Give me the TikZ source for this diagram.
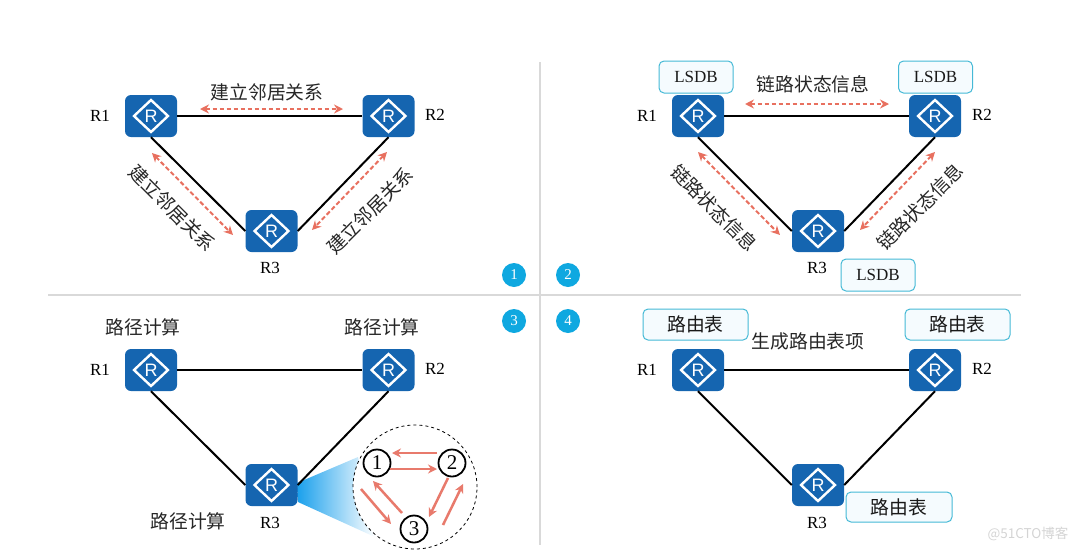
\documentclass[tikz,border=0pt]{standalone}
\usepackage{fontspec}
\setmainfont{Liberation Serif}
\newfontfamily\cjk{Noto Sans CJK SC}
\newfontfamily\rsans{Liberation Sans}
\usetikzlibrary{arrows.meta,shapes.geometric,calc}
\definecolor{rblue}{HTML}{1565B0}
\definecolor{redarrow}{HTML}{E8705F}
\definecolor{flowred}{HTML}{E87A6C}
\definecolor{divgray}{HTML}{D9D9D9}
\definecolor{numblue}{HTML}{0FA8E0}
\definecolor{fanblue}{HTML}{1AA0EC}
\definecolor{boxedge}{HTML}{45B9D6}
\definecolor{boxfill}{HTML}{F5FBFE}
\definecolor{wmgray}{HTML}{D4D4D4}
\tikzset{
  routerbox/.style={fill=rblue,rounded corners=6pt,minimum width=52pt,minimum height=42pt,inner sep=0pt},
  routermark/.style={diamond,draw=white,line width=2.4pt,minimum width=35pt,minimum height=33pt,inner sep=0pt,text=white,font=\rsans\fontsize{18}{18}\selectfont},
  link/.style={draw=black,line width=2pt},
  dasharrow/.style={draw=redarrow,line width=2pt,dash pattern=on 4.5pt off 2.5pt,{Stealth[length=9pt,width=9pt]}-{Stealth[length=9pt,width=9pt]}},
  flow/.style={draw=flowred,line width=2.5pt,-{Stealth[length=9pt,width=9pt]}},
  rlabel/.style={font=\fontsize{17}{18}\selectfont,inner sep=0pt},
  cjklabel/.style={font=\cjk\fontsize{18.8}{20}\selectfont,inner sep=0pt,text=black!85},
  infobox/.style={draw=boxedge,fill=boxfill,line width=1pt,rounded corners=5pt,inner sep=0pt,text=black!90},
  lsdbbox/.style={infobox,minimum width=74pt,minimum height=32pt,font=\fontsize{17}{18}\selectfont},
  tablebox/.style={infobox,minimum width=105pt,minimum height=31pt,font=\cjk\fontsize{18.8}{20}\selectfont},
  numdot/.style={circle,fill=numblue,text=white,minimum size=24pt,inner sep=0pt,font=\fontsize{15}{15}\selectfont},
  stepdot/.style={circle,draw=black,fill=white,line width=1.8pt,minimum size=27pt,inner sep=0pt,font=\fontsize{21}{21}\selectfont},
  divider/.style={draw=divgray,line width=2pt}
}
\newcommand{\routerat}[3]{%
  \node[routerbox] (#1) at (#2,#3) {};
  \node[routermark] (#1m) at (#2,#3) {R};
}
\begin{document}
\begin{tikzpicture}[x=1pt,y=-1pt]
\useasboundingbox (0,0) rectangle (1082,552);
% dividers
\coordinate (vt) at (540,62); \coordinate (vb) at (540,545);
\coordinate (hl) at (48,295); \coordinate (hr) at (1021,295);
\draw[divider] (vt) -- (vb);
\draw[divider] (hl) -- (hr);
% number dots
\node[numdot] (n1) at (514,275) {1};
\node[numdot] (n2) at (568,275) {2};
\node[numdot] (n3) at (514,321) {3};
\node[numdot] (n4) at (568,321) {4};
% panel 1
\routerat{a1}{151}{116}
\routerat{a2}{388.5}{116}
\routerat{a3}{271.5}{231}
\draw[link] (a1.east) -- (a2.west);
\draw[link] (a1.south) -- (a3.west);
\draw[link] (a2.south) -- (a3.east);
\node[rlabel] (a1l) at (100,116) {R1};
\node[rlabel] (a2l) at (435,115) {R2};
\node[rlabel] (a3l) at (270,268) {R3};
\coordinate (at1) at (200,109); \coordinate (at2) at (343,109);
\coordinate (al1) at (152,153); \coordinate (al2) at (233,235);
\coordinate (ar1) at (387,152); \coordinate (ar2) at (312,230);
\draw[dasharrow] (at1) -- (at2);
\draw[dasharrow] (al1) -- (al2);
\draw[dasharrow] (ar1) -- (ar2);
\node[cjklabel] (at) at (267,92) {建立邻居关系};
\node[cjklabel,rotate=-45] (al) at (172,208) {建立邻居关系};
\node[cjklabel,rotate=45] (ar) at (370,211) {建立邻居关系};
% panel 2
\routerat{b1}{698}{116}
\routerat{b2}{935}{116}
\routerat{b3}{818}{231}
\draw[link] (b1.east) -- (b2.west);
\draw[link] (b1.south) -- (b3.west);
\draw[link] (b2.south) -- (b3.east);
\node[rlabel] (b1l) at (647,116) {R1};
\node[rlabel] (b2l) at (982,115) {R2};
\node[rlabel] (b3l) at (817,268) {R3};
\coordinate (bt1) at (745,104); \coordinate (bt2) at (889,104);
\coordinate (bl1) at (698,152); \coordinate (bl2) at (780,235);
\coordinate (br1) at (935,152); \coordinate (br2) at (860,230);
\draw[dasharrow] (bt1) -- (bt2);
\draw[dasharrow] (bl1) -- (bl2);
\draw[dasharrow] (br1) -- (br2);
\node[cjklabel] (bt) at (813,84) {链路状态信息};
\node[cjklabel,rotate=-45] (bl) at (714,208) {链路状态信息};
\node[cjklabel,rotate=45] (br) at (920,207) {链路状态信息};
\node[lsdbbox] (l1) at (696,77) {LSDB};
\node[lsdbbox] (l2) at (935.5,77) {LSDB};
\node[lsdbbox] (l3) at (878,275) {LSDB};
% panel 3
\routerat{c1}{151}{370}
\routerat{c2}{388.5}{370}
\coordinate (fanA) at (297,483); \coordinate (fanB) at (358,457);
\coordinate (fanC) at (375,537); \coordinate (fanD) at (298,502);
\shade[left color=fanblue,right color=white] (fanA) -- (fanB) -- (fanC) -- (fanD) -- cycle;
\routerat{c3}{271.5}{485}
\draw[link] (c1.east) -- (c2.west);
\draw[link] (c1.south) -- (c3.west);
\draw[link] (c2.south) -- (c3.east);
\node[rlabel] (c1l) at (100,370) {R1};
\node[rlabel] (c2l) at (435,369) {R2};
\node[rlabel] (c3l) at (270,523) {R3};
\node[cjklabel] (ct1) at (143,327) {路径计算};
\node[cjklabel] (ct2) at (382,327) {路径计算};
\node[cjklabel] (ct3) at (188,521) {路径计算};
\node[circle,draw=black,fill=white,dashed,line width=0.8pt,minimum size=124pt,inner sep=0pt] (lens) at (415,487) {};
\node[stepdot] (s1) at (377,463) {1};
\node[stepdot] (s2) at (452,463) {2};
\node[stepdot] (s3) at (414,529) {3};
\coordinate (f1) at (437,453); \coordinate (f2) at (392,453);
\coordinate (f3) at (390,469); \coordinate (f4) at (437,469);
\coordinate (f5) at (402,513); \coordinate (f6) at (373,481);
\coordinate (f7) at (361,489); \coordinate (f8) at (391,524);
\coordinate (f9) at (448,478); \coordinate (f10) at (429,517);
\coordinate (f11) at (443,525); \coordinate (f12) at (463,484);
\draw[flow] (f1) -- (f2);
\draw[flow] (f3) -- (f4);
\draw[flow] (f5) -- (f6);
\draw[flow] (f7) -- (f8);
\draw[flow] (f9) -- (f10);
\draw[flow] (f11) -- (f12);
% panel 4
\routerat{d1}{698}{370}
\routerat{d2}{935}{370}
\routerat{d3}{818}{485}
\draw[link] (d1.east) -- (d2.west);
\draw[link] (d1.south) -- (d3.west);
\draw[link] (d2.south) -- (d3.east);
\node[rlabel] (d1l) at (647,370) {R1};
\node[rlabel] (d2l) at (982,369) {R2};
\node[rlabel] (d3l) at (817,523) {R3};
\node[cjklabel] (dt) at (808,341) {生成路由表项};
\node[tablebox] (t1) at (695.5,324.5) {路由表};
\node[tablebox] (t2) at (957.5,324.5) {路由表};
\node[tablebox,minimum width=106pt,minimum height=30pt] (t3) at (899,507) {路由表};
% watermark
\node[font=\cjk\fontsize{13.5}{14}\selectfont,text=wmgray,inner sep=0pt] (wm) at (1028,534) {@51CTO博客};
\end{tikzpicture}
\end{document}
